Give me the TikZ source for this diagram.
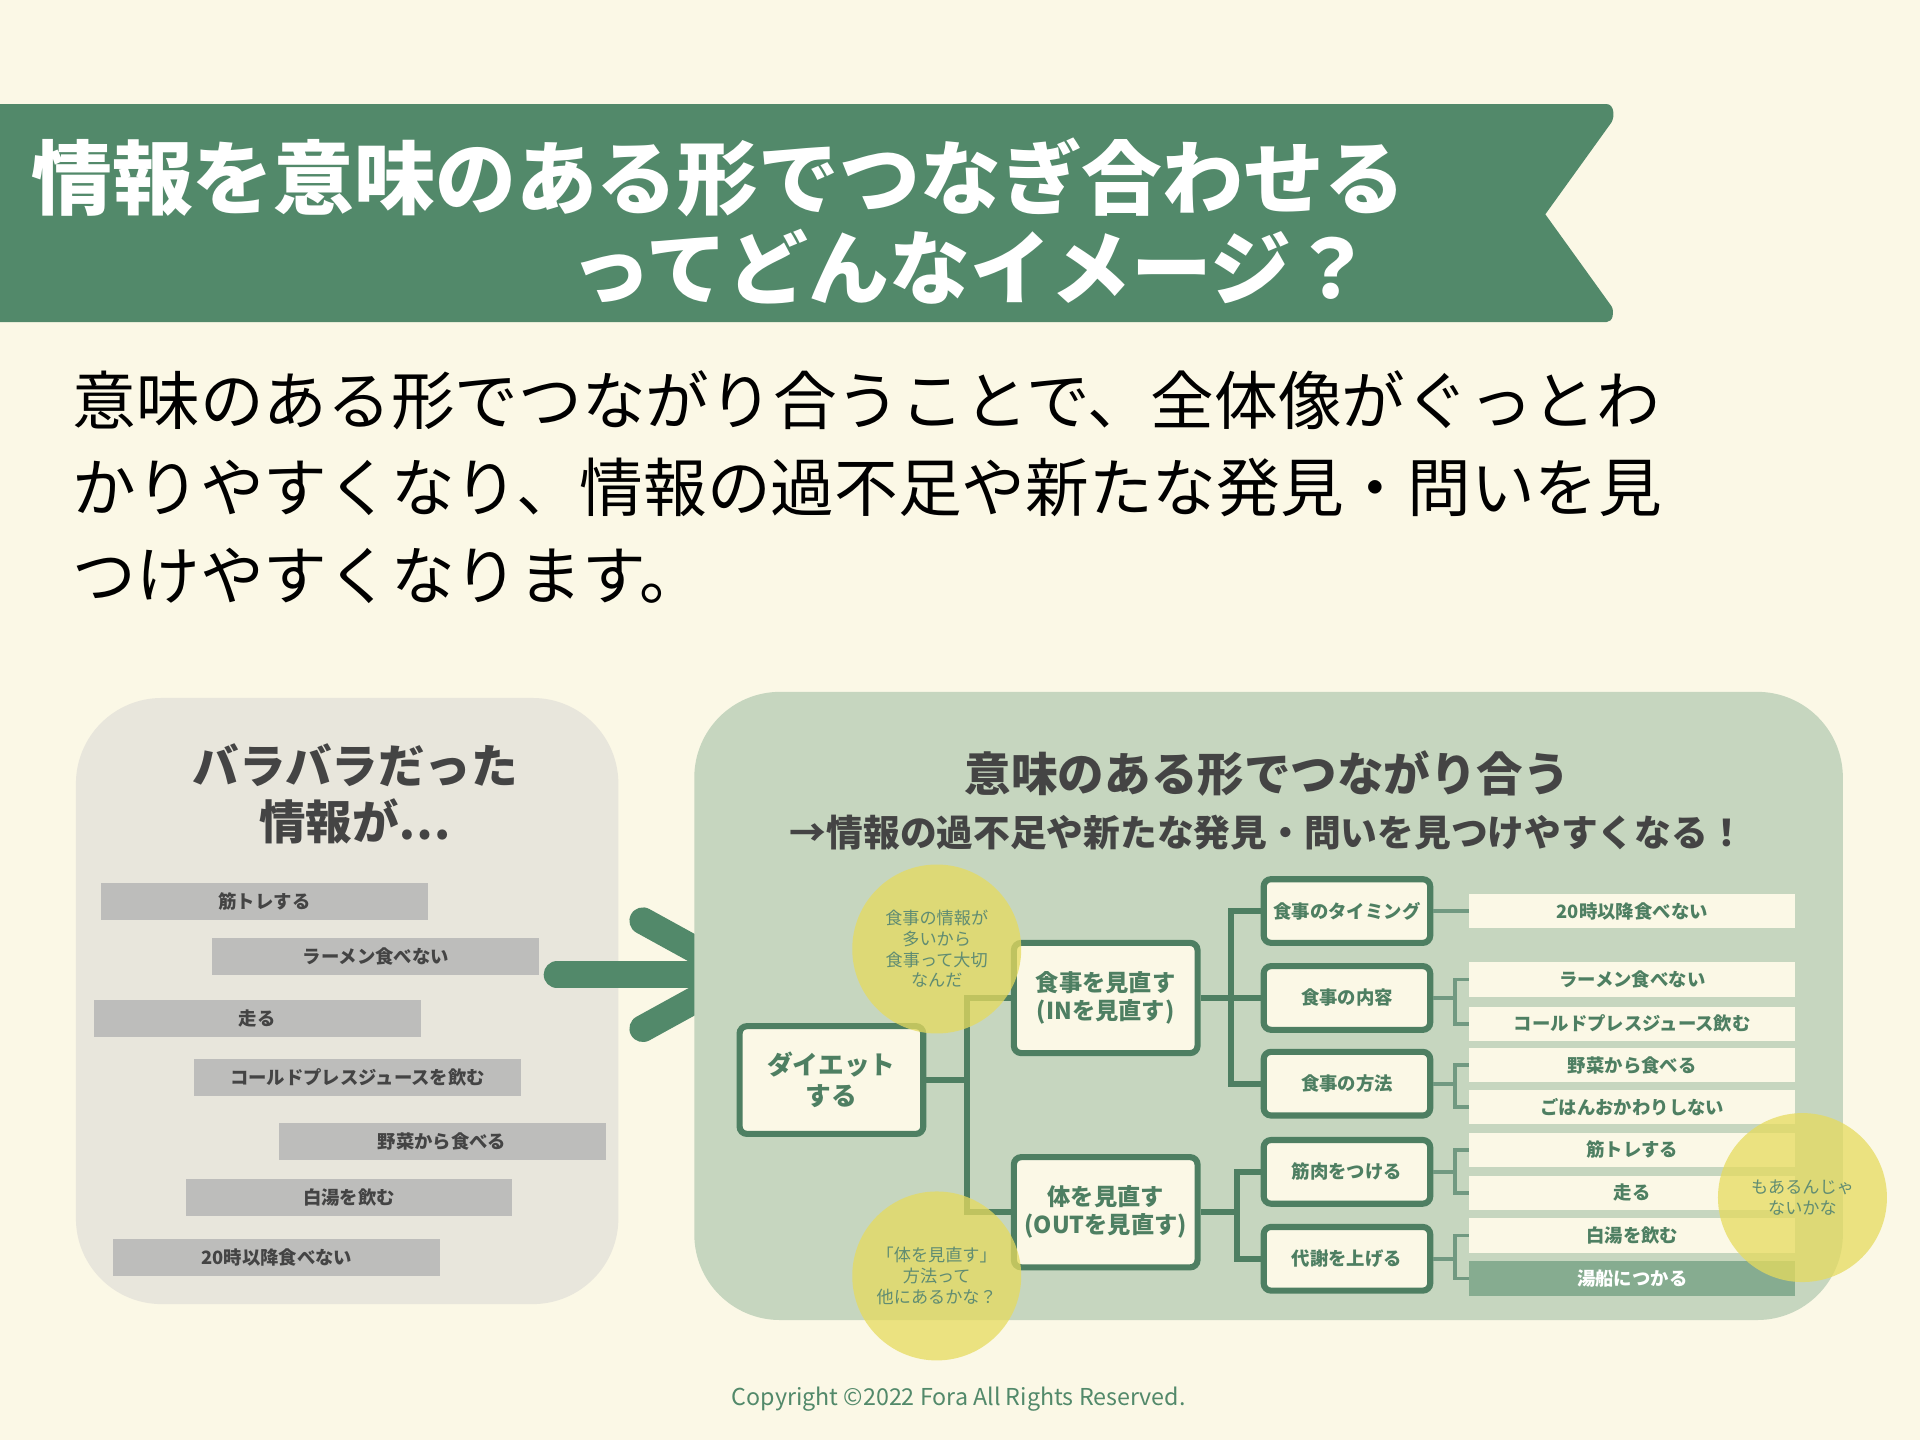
\documentclass[tikz,border=0pt]{standalone}
\usepackage{fontspec}
\setmainfont{Noto Sans CJK JP}
\usetikzlibrary{positioning}
\definecolor{bgc}{HTML}{FBF8E6}
\definecolor{grn}{HTML}{52896A}
\definecolor{dgrn}{HTML}{4E7F62}
\definecolor{lgray}{HTML}{E8E6DC}
\definecolor{lgrn}{HTML}{C6D6BF}
\definecolor{bar}{HTML}{BDBDBB}
\definecolor{ylw}{HTML}{E6DB5E}
\definecolor{txtg}{HTML}{444444}
\newcommand{\fsz}[1]{\fontsize{#1pt}{1.2\dimexpr#1pt\relax}\selectfont}
\tikzset{
  bars/.style={fill=bar, minimum width=267pt, minimum height=30pt, inner sep=0pt, font=\fsz{15}\bfseries, text=txtg},
  box/.style={draw=dgrn, line width=5pt, fill=bgc, rounded corners=6pt, align=center, inner sep=0pt, text=dgrn, font=\bfseries},
  leaf/.style={fill=bgc, minimum width=266pt, minimum height=28pt, inner sep=0pt, font=\fsz{15}\bfseries, text=dgrn},
  link/.style={draw=dgrn, line width=5pt},
  llink/.style={draw=dgrn!80, line width=3pt},
  bubble/.style={circle, fill=ylw, fill opacity=0.75, text opacity=1, minimum size=138pt, align=center, text=dgrn!90, font=\fsz{14}}
}
\begin{document}
\begin{tikzpicture}[x=1pt,y=-1pt]
\useasboundingbox[fill=bgc] (0,0) rectangle (1568,1176);

% banner
\fill[grn] (0,85) -- (1312,85) to[out=0,in=60] (1316,100) -- (1262,175) -- (1316,250) to[out=-60,in=0] (1312,263) -- (0,263) -- cycle;
\node[anchor=west, text=white, font=\fsz{66}\bfseries] (t1) at (22,145) {情報を意味のある形でつなぎ合わせる};
\node[anchor=west, text=white, font=\fsz{66}\bfseries] (t2) at (462,218) {ってどんなイメージ？};

% body text
\node[anchor=west, font=\fsz{52}] (b1) at (56,327) {意味のある形でつながり合うことで、全体像がぐっとわ};
\node[anchor=west, font=\fsz{52}] (b2) at (56,398) {かりやすくなり、情報の過不足や新たな発見・問いを見};
\node[anchor=west, font=\fsz{52}] (b3) at (56,470) {つけやすくなります。};

% left panel
\fill[lgray, rounded corners=70pt] (62,570) rectangle (505,1065);
\node[align=center, text=txtg, font=\fsz{38}\bfseries] (lt) at (290,648) {バラバラだった\\情報が…};
\node[bars] (p1) at (216,736) {筋トレする};
\node[bars] (p2) at (307,781) {ラーメン食べない};
\node[bars] (p3) at (210,832) {走る};
\node[bars] (p4) at (292,880) {コールドプレスジュースを飲む};
\node[bars] (p5) at (361,932) {野菜から食べる};
\node[bars] (p6) at (285,978) {白湯を飲む};
\node[bars] (p7) at (226,1027) {20時以降食べない};

% arrow
\coordinate (as) at (455,796);
\coordinate (ae) at (605,796);
\draw[grn, line width=22pt, line cap=round] (as) -- (ae);
\draw[grn, line width=22pt, line cap=round, line join=round] (525,752) -- (ae) -- (525,840);

% right panel
\fill[lgrn, rounded corners=70pt] (567,565) rectangle (1505,1078);
\node[text=txtg, font=\fsz{38}\bfseries] (rt) at (1035,632) {意味のある形でつながり合う};
\node[text=txtg, font=\fsz{30}\bfseries] (rs) at (1035,680) {→情報の過不足や新たな発見・問いを見つけやすくなる！};

% leaves
\node[leaf] (l1) at (1333,744) {20時以降食べない};
\node[leaf] (l2) at (1333,800) {ラーメン食べない};
\node[leaf] (l3) at (1333,836) {コールドプレスジュース飲む};
\node[leaf] (l4) at (1333,870) {野菜から食べる};
\node[leaf] (l5) at (1333,904) {ごはんおかわりしない};
\node[leaf] (l6) at (1333,939) {筋トレする};
\node[leaf] (l7) at (1333,974) {走る};
\node[leaf] (l8) at (1333,1009) {白湯を飲む};
\node[leaf, fill=grn!55!lgrn, text=white] (l9) at (1333,1044) {湯船につかる};

% tree boxes
\node[box, minimum width=150pt, minimum height=88pt, font=\fsz{21}\bfseries] (diet) at (679,882) {ダイエット\\する};
\node[box, minimum width=150pt, minimum height=90pt, font=\fsz{19}\bfseries] (meal) at (903,815) {食事を見直す\\(INを見直す)};
\node[box, minimum width=150pt, minimum height=90pt, font=\fsz{19}\bfseries] (body) at (903,990) {体を見直す\\(OUTを見直す)};
\node[box, minimum width=136pt, minimum height=52pt, font=\fsz{15}\bfseries] (timing) at (1100,744) {食事のタイミング};
\node[box, minimum width=136pt, minimum height=52pt, font=\fsz{15}\bfseries] (content) at (1100,815) {食事の内容};
\node[box, minimum width=136pt, minimum height=52pt, font=\fsz{15}\bfseries] (method) at (1100,885) {食事の方法};
\node[box, minimum width=136pt, minimum height=52pt, font=\fsz{15}\bfseries] (muscle) at (1100,957) {筋肉をつける};
\node[box, minimum width=136pt, minimum height=52pt, font=\fsz{15}\bfseries] (metab) at (1100,1028) {代謝を上げる};

% connectors
\coordinate (j1) at (790,882);
\coordinate (j2) at (1005,815);
\coordinate (j3) at (1010,990);
\path[link] (diet) -- (j1) |- (meal);
\path[link] (j1) |- (body);
\path[link] (meal) -- (j2) |- (timing);
\path[link] (j2) |- (method);
\path[link] (j2) -- (content);
\path[link] (body) -- (j3) |- (muscle);
\path[link] (j3) |- (metab);
\path[llink] (timing) -- (l1);
\path[llink] (content.east) -- ++(18,0) coordinate (k1) |- (l2);
\path[llink] (k1) |- (l3);
\path[llink] (method.east) -- ++(18,0) coordinate (k2) |- (l4);
\path[llink] (k2) |- (l5);
\path[llink] (muscle.east) -- ++(18,0) coordinate (k3) |- (l6);
\path[llink] (k3) |- (l7);
\path[llink] (metab.east) -- ++(18,0) coordinate (k4) |- (l8);
\path[llink] (k4) |- (l9);

% bubbles
\node[bubble] (q1) at (765,775) {食事の情報が\\多いから\\食事って大切\\なんだ};
\node[bubble] (q2) at (765,1042) {「体を見直す」\\方法って\\他にあるかな？};
\node[bubble] (q3) at (1472,978) {もあるんじゃ\\ないかな};

\node[text=grn, font=\fsz{19}] (cr) at (783,1143) {Copyright ©2022 Fora All Rights Reserved.};
\end{tikzpicture}
\end{document}
